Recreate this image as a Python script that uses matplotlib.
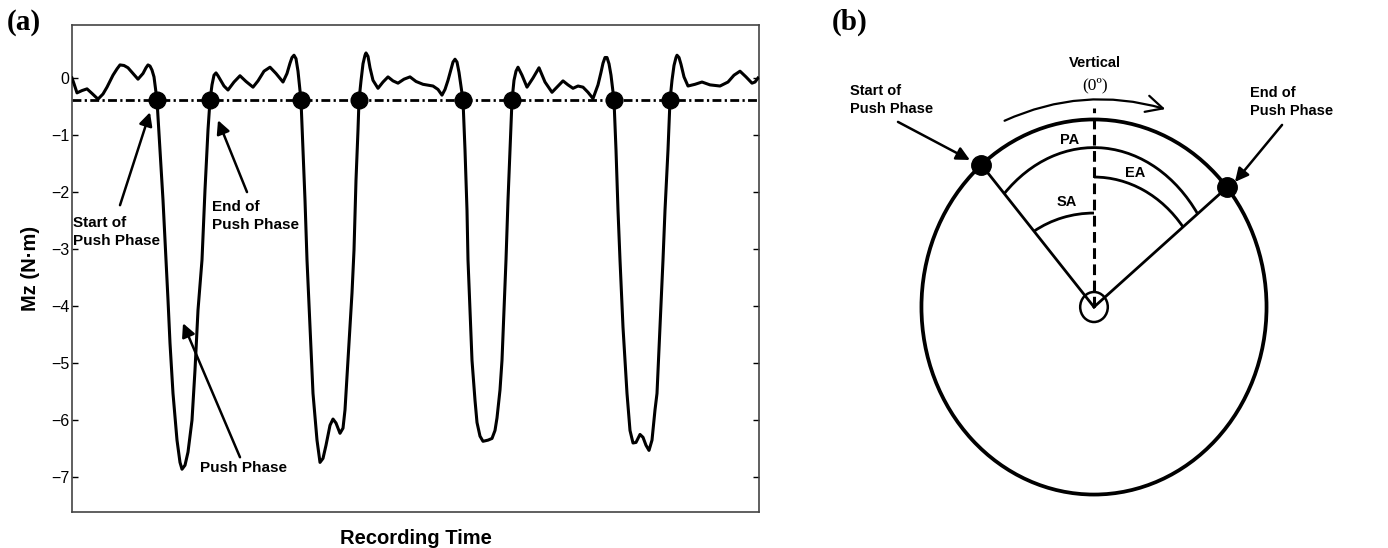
import matplotlib

matplotlib.use("Agg")
import matplotlib.pyplot as plt
from matplotlib.patches import Arc, Circle, FancyArrowPatch
import numpy as np

plt.rcParams["font.family"] = ["Liberation Sans", "DejaVu Sans"]

# ---- panel (a): Mz torque trace over four pushes (time in arbitrary units)
TIME = [
    0, 2, 5, 10, 15, 20, 26, 31, 35, 41, 45, 48, 52, 56, 61, 66, 71, 74, 76, 78, 80, 82, 85,
    88, 91, 94, 96, 98, 101, 105, 108, 110, 113, 116, 120, 123, 126, 130, 133, 136, 138,
    140, 142, 144, 146, 148, 152, 156, 162, 168, 174, 181, 186, 192, 198, 204, 211, 215, 218,
    220, 222, 224, 226, 229,
    231, 233, 235, 238, 241, 245, 248, 251, 254, 258, 261, 264, 268, 271, 273, 276, 280,
    282, 284, 286, 287,
    289, 291, 293, 294, 296, 298, 301, 306, 311, 316, 321, 326, 332, 338, 344, 351, 361, 366,
    370, 373, 376, 379, 381, 383, 385, 387, 391,
    393, 395, 396, 398, 400, 403, 405, 408, 411, 416, 420, 423, 425, 428, 430, 432, 434,
    436, 438, 440,
    442, 444, 446, 450, 455, 461, 467, 473, 480, 486, 491, 496, 501, 506, 511, 516, 521,
    526, 529, 531, 533, 535, 537, 539, 542,
    544, 546, 548, 551, 555, 558, 561, 564, 568, 571, 574, 577, 580, 583, 585, 588, 591,
    593, 596, 598,
    600, 602, 604, 605, 607, 609, 612, 616, 623, 630, 638, 648, 656, 662, 668, 674, 680,
    683, 686,
]
MZ = [
    0.0, -0.10, -0.26, -0.22, -0.19, -0.27, -0.37, -0.28, -0.16, 0.05, 0.16, 0.23, 0.22,
    0.18, 0.08, -0.02, 0.08, 0.18, 0.23, 0.21, 0.14, 0.02, -0.39,
    -1.26, -2.14, -3.19, -3.89, -4.65, -5.53, -6.35, -6.74, -6.86, -6.79, -6.56, -6.00,
    -5.12, -4.07, -3.19, -1.96, -0.91, -0.39,
    -0.12, 0.05, 0.09, 0.04, -0.02, -0.14, -0.21, -0.07, 0.04, -0.06, -0.16, -0.05, 0.12,
    0.19, 0.08, -0.07, 0.08, 0.26, 0.36, 0.40, 0.34, 0.12, -0.39,
    -1.26, -2.14, -3.19, -4.37, -5.53, -6.35, -6.74, -6.67, -6.44, -6.09, -5.98, -6.05,
    -6.23, -6.14, -5.82, -4.95, -3.77, -3.02, -1.79, -0.91, -0.39,
    -0.05, 0.25, 0.40, 0.44, 0.38, 0.18, -0.04, -0.18, -0.07, 0.02, -0.05, -0.09, -0.02,
    0.02, -0.06, -0.11, -0.14, -0.20, -0.30, -0.20, -0.04, 0.15, 0.28, 0.33, 0.28, 0.10,
    -0.39,
    -1.26, -2.32, -3.19, -4.07, -4.95, -5.65, -6.04, -6.28, -6.37, -6.35, -6.32, -6.18,
    -5.96, -5.47, -4.95, -4.07, -3.19, -2.14, -1.26, -0.39,
    -0.04, 0.12, 0.19, 0.05, -0.16, 0.0, 0.18, -0.07, -0.25, -0.14, -0.05, -0.12, -0.18,
    -0.14, -0.16, -0.25, -0.36, -0.12, 0.10, 0.26, 0.36, 0.36, 0.25, 0.05, -0.39,
    -1.26, -2.32, -3.19, -4.37, -5.53, -6.18, -6.40, -6.39, -6.25, -6.30, -6.44, -6.53,
    -6.35, -5.82, -5.53, -4.37, -3.19, -2.32, -1.26, -0.39,
    -0.04, 0.22, 0.36, 0.40, 0.36, 0.24, 0.02, -0.14, -0.11, -0.07, -0.12, -0.14, -0.07,
    0.05, 0.12, 0.02, -0.09, -0.07, 0.0,
]
THRESHOLD = -0.39
CROSS_TIMES = [85, 138, 229, 287, 391, 440, 542, 598]
Y_TICKS = [0, -1, -2, -3, -4, -5, -6, -7]

# ---- panel (b): wheel diagram, angles in degrees from vertical (+ = clockwise)
START_ANGLE = -40.7
END_ANGLE = 50.4

W, H = 1388, 548
fig = plt.figure(figsize=(W / 100, H / 100), dpi=100)

ax = fig.add_axes([72 / W, 36 / H, 687 / W, 487 / H])
ax.plot(TIME, MZ, color="black", lw=2.2, solid_joinstyle="round", zorder=3)
ax.axhline(THRESHOLD, color="black", lw=2.0, dashes=(3.2, 1.2, 0.8, 1.2), zorder=2)
ax.plot(CROSS_TIMES, [THRESHOLD] * len(CROSS_TIMES), "o", color="black", ms=12, zorder=4)
ax.set_xlim(0, 687)
ax.set_ylim(-7.61, 0.93)
ax.set_xticks([])
ax.set_yticks(Y_TICKS)
ax.tick_params(axis="y", direction="in", length=4.5, width=1, right=True,
               labelsize=11.5, pad=2)
for sp in ax.spines.values():
    sp.set_color("#444444")
    sp.set_linewidth(1.2)
ax.set_ylabel("Mz (N\u00b7m)", fontsize=14.5, fontweight="bold", labelpad=8)
ax.set_xlabel("Recording Time", fontsize=14.5, fontweight="bold", labelpad=12)

arrow_kw = dict(arrowstyle="-|>", color="black", lw=1.8, mutation_scale=20,
                shrinkA=0, shrinkB=0)
note_kw = dict(fontsize=11, fontweight="bold", va="center", ha="left", linespacing=1.3)
ax.text(1, -2.70, "Start of\nPush Phase", **note_kw)
ax.annotate("", xy=(78, -0.60), xytext=(48, -2.23), arrowprops=arrow_kw)
ax.text(140, -2.42, "End of\nPush Phase", **note_kw)
ax.annotate("", xy=(146, -0.74), xytext=(175, -2.0), arrowprops=arrow_kw)
ax.text(128, -6.84, "Push Phase", **note_kw)
ax.annotate("", xy=(111, -4.30), xytext=(168, -6.65), arrowprops=arrow_kw)

fig.text(7 / W, 1 - 22 / H, "(a)", family="Liberation Serif", fontweight="bold",
         fontsize=21, va="center", ha="left")
fig.text(832 / W, 1 - 22 / H, "(b)", family="Liberation Serif", fontweight="bold",
         fontsize=21, va="center", ha="left")

# ---- panel (b)
bx = fig.add_axes([820 / W, 0, 568 / W, 1])
bx.set_xlim(-1.588, 1.704)
bx.set_ylim(-1.285, 1.637)
bx.axis("off")


def rim_point(angle, r=1.0):
    a = np.deg2rad(angle)
    return r * np.sin(a), r * np.cos(a)


bx.add_patch(Circle((0, 0), 1.0, fill=False, lw=2.7, color="black"))
bx.add_patch(Circle((0, 0), 0.08, fill=False, lw=1.8, color="black"))
for ang in (START_ANGLE, END_ANGLE):
    px, py = rim_point(ang)
    bx.plot([0, px], [0, py], color="black", lw=2.0)
    bx.plot(px, py, "o", color="black", ms=14)
bx.plot([0, 0], [0, 1.06], color="black", lw=2.2, dashes=(3.5, 1.8))

t_start = 90 - START_ANGLE
t_end = 90 - END_ANGLE
bx.add_patch(Arc((0, 0), 1.48, 1.70, theta1=t_end, theta2=t_start, lw=2.0))
bx.add_patch(Arc((0, 0), 1.31, 1.386, theta1=t_end, theta2=90, lw=2.0))
bx.add_patch(Arc((0, 0), 1.176, 1.002, theta1=90, theta2=t_start, lw=2.0))

bx.add_patch(FancyArrowPatch((-0.533, 0.987), (0.429, 1.051),
                             connectionstyle="arc3,rad=-0.19", arrowstyle="->,head_length=0.6,head_width=0.3",
                             mutation_scale=20, lw=1.6, color="black"))

lbl_kw = dict(fontsize=10.5, fontweight="bold", ha="center", va="center")
bx.text(-0.139, 0.891, "PA", **lbl_kw)
bx.text(0.238, 0.715, "EA", **lbl_kw)
bx.text(-0.157, 0.560, "SA", **lbl_kw)
bx.text(0.006, 1.301, "Vertical", **lbl_kw)
bx.text(0.006, 1.184, "(0\u00ba)", family="Liberation Serif", fontsize=12.5,
        ha="center", va="center")

note_b = dict(fontsize=10.5, fontweight="bold", va="center", ha="left", linespacing=1.35)
bx.text(-1.414, 1.104, "Start of\nPush Phase", **note_b)
bx.annotate("", xy=(-0.719, 0.784), xytext=(-1.136, 0.987), arrowprops=arrow_kw)
bx.text(0.904, 1.093, "End of\nPush Phase", **note_b)
bx.annotate("", xy=(0.817, 0.667), xytext=(1.090, 0.971), arrowprops=arrow_kw)

fig.savefig("out.png", dpi=100)
